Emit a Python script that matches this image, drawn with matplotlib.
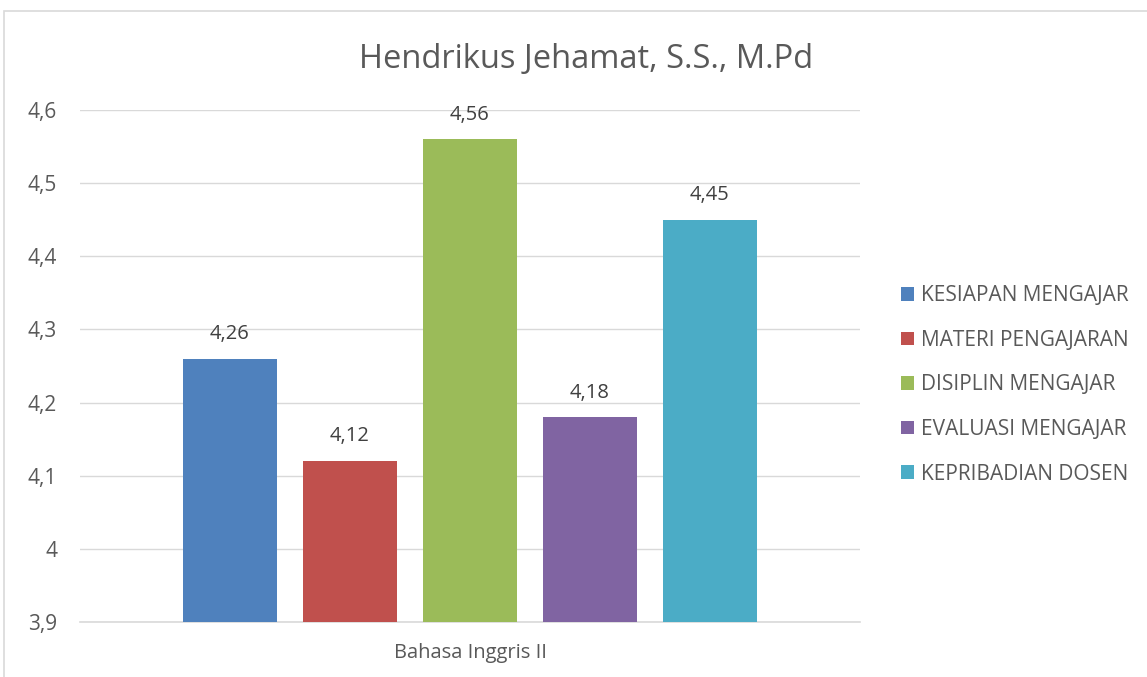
import matplotlib.pyplot as plt
from matplotlib.patches import Rectangle
import numpy as np

plt.rcParams['font.family'] = ['Open Sans', 'DejaVu Sans']

# chart data
title = "Hendrikus Jehamat, S.S., M.Pd"
category = "Bahasa Inggris II"
series = ["KESIAPAN MENGAJAR", "MATERI PENGAJARAN", "DISIPLIN MENGAJAR",
          "EVALUASI MENGAJAR", "KEPRIBADIAN DOSEN"]
values = [4.26, 4.12, 4.56, 4.18, 4.45]
colors = ["#4F81BD", "#C0504D", "#9BBB59", "#8064A2", "#4BACC6"]
yticks = [3.9, 4.0, 4.1, 4.2, 4.3, 4.4, 4.5, 4.6]

fig = plt.figure(figsize=(11.47, 6.77), dpi=100)
ax = fig.add_axes([80 / 1147, 1 - 622 / 677, 780 / 1147, 512 / 677])

# chart area border (left and top visible)
fig.patches.append(Rectangle((4 / 1147, -0.1), 1.2, 1 - 11 / 677 + 0.1,
                             transform=fig.transFigure, fill=False,
                             edgecolor="#d9d9d9", linewidth=1.2))

x = np.arange(len(values)) - 2
for i, (s, v, c) in enumerate(zip(series, values, colors)):
    ax.bar(x[i], v - 3.9, bottom=3.9, width=0.79, color=c, label=s, zorder=3)
    ax.text(x[i], v + 0.02, f"{v:.2f}".replace(".", ","), ha="center", va="bottom",
            fontsize=14.5, color="#404040")

ax.set_xlim(-3.25, 3.25)
ax.set_ylim(3.9, 4.6)
ax.set_yticks(yticks)
ax.set_yticklabels([f"{t:g}".replace(".", ",") for t in yticks], fontsize=15, color="#595959")
ax.tick_params(axis="y", length=0, pad=16.5)
ax.set_xticks([0])
ax.set_xticklabels([category], fontsize=14.5, color="#595959")
ax.tick_params(axis="x", length=0, pad=15)
ax.grid(axis="y", color="#d9d9d9", linewidth=1, zorder=0)
for sp in ["top", "right", "left"]:
    ax.spines[sp].set_visible(False)
ax.spines["bottom"].set_color("#d9d9d9")
ax.spines["bottom"].set_linewidth(1.2)

fig.text(586 / 1147, 1 - 60 / 677, title, ha="center", va="center",
         fontsize=23.5, color="#595959")

leg = fig.legend(loc="upper left", bbox_to_anchor=(893 / 1147, 1 - 277 / 677),
                 frameon=False, fontsize=15, handlelength=0.63, handleheight=0.63,
                 handletextpad=0.33, labelspacing=1.13, borderaxespad=0)
for t in leg.get_texts():
    t.set_color("#595959")

fig.savefig("out.png", dpi=100)
